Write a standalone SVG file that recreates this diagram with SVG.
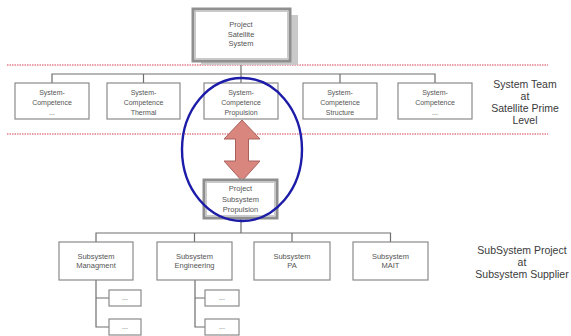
<svg xmlns="http://www.w3.org/2000/svg" width="571" height="336" viewBox="0 0 571 336">
<defs>
<style>
.bx{fill:#fff;stroke:#8a8a8a;stroke-width:1.2}
.pbx{fill:#fff;stroke:#8f8f8f;stroke-width:3}
.pin{fill:none;stroke:#bdbdbd;stroke-width:0.8}
.ln{fill:none;stroke:#6e6e6e;stroke-width:1.2}
.dot{fill:none;stroke:#e37f8c;stroke-width:1.6;stroke-dasharray:1.5 1}
.t{font-family:"Liberation Sans",Arial,sans-serif;fill:#555;text-anchor:middle}
.s7{font-size:7px}
.s75{font-size:7.5px}
.lab{font-family:"Liberation Sans",Arial,sans-serif;fill:#3a3a3a;text-anchor:middle;font-size:10.5px}
</style>
</defs>
<rect width="571" height="336" fill="#fff"/>
<g id="separators">
<line class="dot" x1="7" y1="65" x2="548" y2="65"/>
<line class="dot" x1="7" y1="134" x2="548" y2="134"/>
</g>
<g id="connectors">
<path class="ln" d="M241 62V74M52 83V74H435V83M143.5 74V83M241 74V83M340 74V83"/>
<path class="ln" d="M241 218V233M96 242V233H390.5V242M194.5 233V242M292 233V242"/>
<path class="ln" d="M96 280V327H109M96 298H109"/>
<path class="ln" d="M195 280V327H205M195 298H205"/>
</g>
<g id="project-satellite">
<rect x="201" y="15" width="97" height="50" fill="#c9c9c9"/>
<rect class="pbx" x="193" y="9" width="97" height="52"/>
<rect class="pin" x="195.5" y="11.5" width="92" height="47"/>
<text class="t s75" x="241" y="27">Project</text>
<text class="t s75" x="241" y="36.5">Satellite</text>
<text class="t s75" x="241" y="46">System</text>
</g>
<g id="sc1">
<rect class="bx" x="15" y="83" width="74" height="36"/>
<text class="t s7" x="52" y="94.5">System-</text>
<text class="t s7" x="52" y="104.5">Competence</text>
<text class="t s7" x="52" y="114.5">...</text>
</g>
<g id="sc2">
<rect class="bx" x="107" y="83" width="73" height="36"/>
<text class="t s7" x="143.5" y="94.5">System-</text>
<text class="t s7" x="143.5" y="104.5">Competence</text>
<text class="t s7" x="143.5" y="114.5">Thermal</text>
</g>
<g id="sc3">
<rect class="bx" x="204" y="83" width="74" height="36"/>
<text class="t s7" x="241" y="94.5">System-</text>
<text class="t s7" x="241" y="104.5">Competence</text>
<text class="t s7" x="241" y="114.5">Propulsion</text>
</g>
<g id="sc4">
<rect class="bx" x="303" y="83" width="74" height="36"/>
<text class="t s7" x="340" y="94.5">System-</text>
<text class="t s7" x="340" y="104.5">Competence</text>
<text class="t s7" x="340" y="114.5">Structure</text>
</g>
<g id="sc5">
<rect class="bx" x="398" y="83" width="74" height="36"/>
<text class="t s7" x="435" y="94.5">System-</text>
<text class="t s7" x="435" y="104.5">Competence</text>
<text class="t s7" x="435" y="114.5">...</text>
</g>
<g id="arrow">
<path d="M242 120L260 139H248.5V161H260L242 181L224 161H235.5V139H224Z" fill="#d9867f" stroke="#a8625c" stroke-width="1"/>
</g>
<g id="project-subsystem">
<rect class="pbx" x="204" y="180" width="73" height="38"/>
<rect class="pin" x="206.5" y="182.5" width="68" height="33"/>
<text class="t s75" x="240.5" y="190.7">Project</text>
<text class="t s75" x="240.5" y="201.5">Subsystem</text>
<text class="t s75" x="240.5" y="211.5">Propulsion</text>
</g>
<g id="highlight">
<ellipse cx="242" cy="149.5" rx="60" ry="71.5" fill="none" stroke="#1c1ca8" stroke-width="2.4"/>
</g>
<g id="ss-management">
<rect class="bx" x="59" y="242" width="74" height="38"/>
<text class="t s75" x="96" y="258.5">Subsystem</text>
<text class="t s75" x="96" y="268">Managment</text>
</g>
<g id="ss-engineering">
<rect class="bx" x="157" y="242" width="75" height="38"/>
<text class="t s75" x="194.5" y="258.5">Subsystem</text>
<text class="t s75" x="194.5" y="268">Engineering</text>
</g>
<g id="ss-pa">
<rect class="bx" x="254" y="242" width="76" height="38"/>
<text class="t s75" x="292" y="258.5">Subsystem</text>
<text class="t s75" x="292" y="268">PA</text>
</g>
<g id="ss-mait">
<rect class="bx" x="353" y="242" width="75" height="38"/>
<text class="t s75" x="390.5" y="258.5">Subsystem</text>
<text class="t s75" x="390.5" y="268">MAIT</text>
</g>
<g id="m1">
<rect class="bx" x="109" y="290" width="32" height="16"/>
<text class="t s7" x="125" y="300">...</text>
</g>
<g id="m2">
<rect class="bx" x="109" y="319" width="32" height="16"/>
<text class="t s7" x="125" y="329">...</text>
</g>
<g id="e1">
<rect class="bx" x="205" y="290" width="34" height="16"/>
<text class="t s7" x="222" y="300">...</text>
</g>
<g id="e2">
<rect class="bx" x="205" y="319" width="34" height="16"/>
<text class="t s7" x="222" y="329">...</text>
</g>
<g id="labels">
<text class="lab" x="525" y="88">System Team</text>
<text class="lab" x="525" y="99.5">at</text>
<text class="lab" x="525" y="111.5">Satellite Prime</text>
<text class="lab" x="525" y="124">Level</text>
<text class="lab" x="522" y="254" font-size="11">SubSystem Project</text>
<text class="lab" x="522" y="266">at</text>
<text class="lab" x="522" y="278">Subsystem Supplier</text>
</g>
</svg>
